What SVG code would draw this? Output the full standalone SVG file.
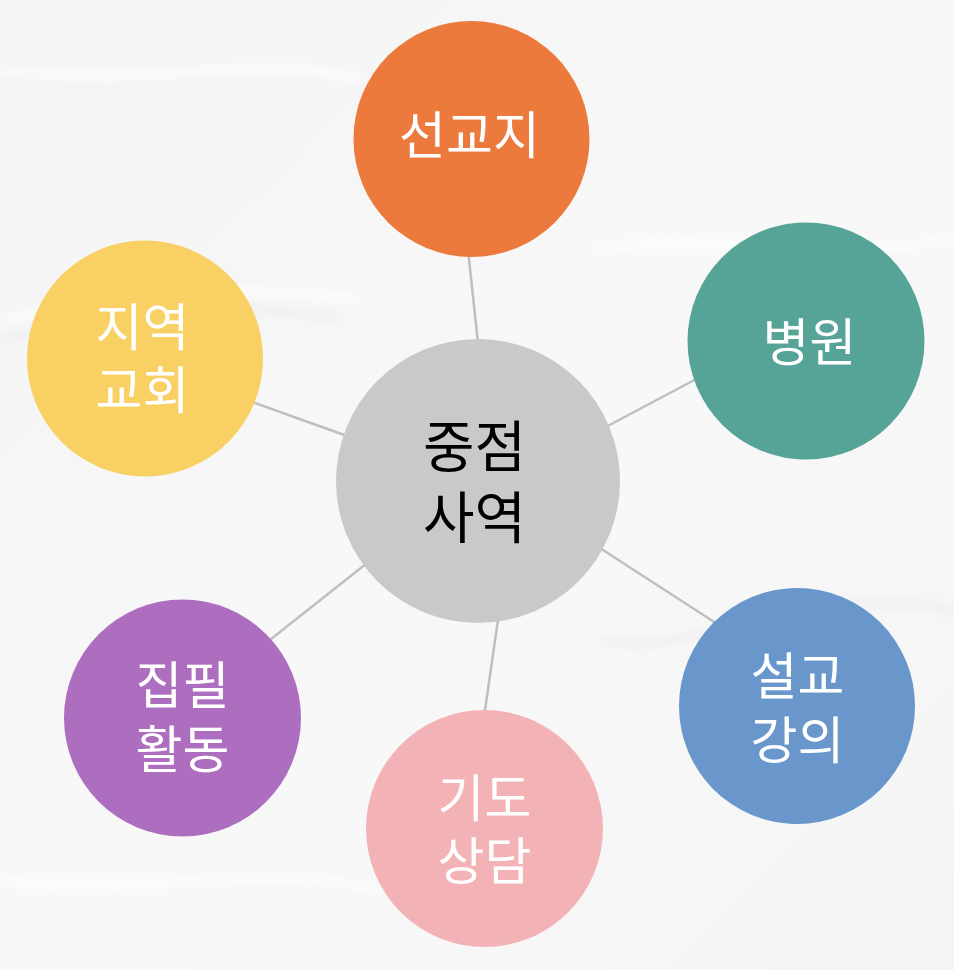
<svg xmlns="http://www.w3.org/2000/svg" width="954" height="970" viewBox="0 0 954 970">
  <defs>
    <style>
      .lbl { font-family: "Noto Sans CJK KR", "Noto Sans", sans-serif; font-size: 51px; font-weight: 400; fill: #ffffff; text-anchor: middle; }
      .ctr { font-family: "Noto Sans CJK KR", "Noto Sans", sans-serif; font-size: 56px; font-weight: 400; fill: #000000; text-anchor: middle; }
      .conn { stroke: #bfbfbf; stroke-width: 2.5; fill: none; }
      .crease { fill: none; stroke: #ffffff; stroke-width: 10; opacity: 0.55; }
      .shade { fill: none; stroke: #e9e9e9; stroke-width: 8; opacity: 0.45; }
    </style>
    <filter id="soft" x="-10%" y="-50%" width="120%" height="200%">
      <feGaussianBlur stdDeviation="4"/>
    </filter>
    <linearGradient id="bg" x1="0" y1="0" x2="1" y2="1">
      <stop offset="0" stop-color="#f4f4f4"/>
      <stop offset="0.5" stop-color="#f8f8f8"/>
      <stop offset="1" stop-color="#f5f5f5"/>
    </linearGradient>
  </defs>

  <g id="background">
    <rect x="0" y="0" width="954" height="970" fill="url(#bg)"/>
    <g filter="url(#soft)">
      <path class="crease" d="M0 320 C120 300 240 280 360 300"/>
      <path class="shade" d="M0 340 C110 318 230 300 340 318"/>
      <path class="crease" d="M590 250 C700 230 820 260 954 240"/>
      <path class="crease" d="M0 70 C150 90 260 50 360 80"/>
      <path class="shade" d="M600 640 C700 660 800 580 954 610"/>
      <path class="crease" d="M0 880 C120 900 260 860 380 890"/>
    </g>
  </g>

  <g id="connectors">
    <line class="conn" x1="478.2" y1="345" x2="468" y2="250"/>
    <line class="conn" x1="602" y1="429" x2="700" y2="377"/>
    <line class="conn" x1="596" y1="545.5" x2="718" y2="624.5"/>
    <line class="conn" x1="498.7" y1="615" x2="484" y2="717"/>
    <line class="conn" x1="369" y1="561.5" x2="266" y2="643"/>
    <line class="conn" x1="350" y1="437" x2="248" y2="400.5"/>
  </g>

  <g id="node-center">
    <circle cx="478" cy="481" r="142" fill="#c9c9c9"/>
    <text class="ctr" x="474.5" y="467">중점</text>
    <text class="ctr" x="474.5" y="538">사역</text>
  </g>

  <g id="node-seongyoji">
    <circle cx="471.5" cy="139" r="118" fill="#ec7a3d"/>
    <text class="lbl" x="469.5" y="154">선교지</text>
  </g>

  <g id="node-byeongwon">
    <circle cx="806" cy="341" r="118.5" fill="#56a498"/>
    <text class="lbl" x="809.5" y="360.7">병원</text>
  </g>

  <g id="node-seolgyo">
    <circle cx="797" cy="706" r="118" fill="#6996cb"/>
    <text class="lbl" x="797.5" y="694.7">설교</text>
    <text class="lbl" x="797.5" y="758.7">강의</text>
  </g>

  <g id="node-gido">
    <circle cx="484.5" cy="828.5" r="118.5" fill="#f3b2b6"/>
    <text class="lbl" x="484.5" y="817.2">기도</text>
    <text class="lbl" x="484.5" y="879.7">상담</text>
  </g>

  <g id="node-jippil">
    <circle cx="182.5" cy="718" r="118.5" fill="#ad6ebf"/>
    <text class="lbl" x="182.5" y="704.2">집필</text>
    <text class="lbl" x="182.5" y="768.2">활동</text>
  </g>

  <g id="node-jiyeok">
    <circle cx="145" cy="358.5" r="118" fill="#f8d063"/>
    <text class="lbl" x="142.5" y="346.2">지역</text>
    <text class="lbl" x="142.5" y="409.2">교회</text>
  </g>
</svg>
